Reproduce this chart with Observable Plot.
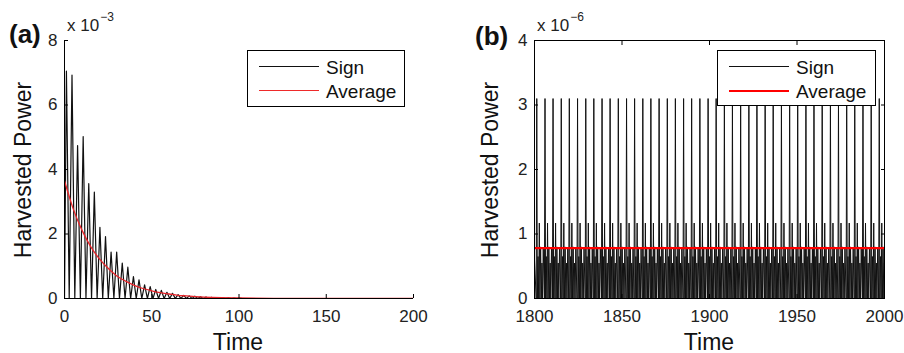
<!DOCTYPE html>
<html><head><meta charset="utf-8">
<script src="https://cdn.jsdelivr.net/npm/d3@7"></script>
<script src="https://cdn.jsdelivr.net/npm/@observablehq/plot@0.6"></script>
<style>
body{margin:0;background:#fff;font-family:"Liberation Sans",Arial,Helvetica,sans-serif;}
#wrap{position:relative;width:904px;height:353px;overflow:hidden;background:#fff;}
.panel{position:absolute;top:0;}
.tag{position:absolute;font-weight:bold;font-size:26px;color:#111;line-height:1;}
.exp{position:absolute;font-size:17px;color:#222;line-height:1;white-space:nowrap;}
.exp sup{font-size:12px;position:relative;top:-3px;margin-left:1px;}
.ytitle{position:absolute;font-size:23px;color:#111;white-space:nowrap;transform:translate(-50%,-50%) rotate(-90deg);line-height:1;}
.xtitle{position:absolute;font-size:23px;color:#111;white-space:nowrap;transform:translate(-50%,-50%);line-height:1;}
.legend{position:absolute;border:1px solid #000;background:#fff;box-sizing:border-box;}
.legend .row{position:absolute;left:0;width:100%;height:22px;}
.legend .ln{position:absolute;left:11px;width:60px;top:10px;}
.legend .tx{position:absolute;left:78px;top:11px;transform:translateY(-50%);font-size:19px;color:#111;line-height:1;white-space:nowrap;}
</style></head>
<body>
<div id="wrap"></div>
<script>
// ---------- Panel (a) data (power in units of 1e-3) ----------
const aPeakTimes = [1.1,4.3,7.5,10.7,13.9,17.1,20.3,23.5,26.7,29.9,33.1,36.3,39.5,42.7,45.9,49.1,52.3,55.5,58.7,61.9,65.1,68.3,71.5,74.7,77.9,81.1,84.3,87.5,90.7,93.9,97.1,100.3];
const aPeakValues = [7.05,6.93,4.74,5.02,3.56,3.30,2.21,1.92,1.44,1.44,1.10,0.97,0.68,0.58,0.42,0.37,0.28,0.25,0.19,0.16,0.12,0.10,0.08,0.07,0.05,0.045,0.035,0.03,0.02,0.02,0.015,0.012];
const aTroughTimes = [0,2.7,5.9,9.1,12.3,15.5,18.7,21.9,25.1,28.3,31.5,34.7,37.9,41.1,44.3,47.5,50.7,53.9,57.1,60.3,63.5,66.7,69.9,73.1,76.3,79.5,82.7,85.9,89.1,92.3,95.5,98.7,101.9,200];
const aAvgTimes = [0,5,10,15,20,25,30,35,40,45,50,55,60,65,70,75,80,90,100,120,150,200];
const aAvgValues = [3.65,2.78,2.12,1.61,1.23,0.94,0.70,0.54,0.41,0.31,0.24,0.18,0.14,0.10,0.08,0.06,0.045,0.025,0.015,0.005,0.002,0.001];
const aXTicks = [0,50,100,150,200];
const aYTicks = [0,2,4,6,8];

// ---------- Panel (b) data (power in units of 1e-6) ----------
const bSpikeTimes = [1801.3,1806.0,1810.6,1815.3,1819.9,1824.6,1829.3,1833.9,1838.6,1843.2,1847.9,1852.6,1857.2,1861.9,1866.5,1871.2,1875.9,1880.5,1885.2,1889.8,1894.5,1899.2,1903.8,1908.5,1913.1,1917.8,1922.5,1927.1,1931.8,1936.4,1941.1,1945.8,1950.4,1955.1,1959.7,1964.4,1969.1,1973.7,1978.4,1983.0,1987.7,1992.4,1997.0];
// one period of the steady oscillation, relative to each tall spike
const bCycleOffsets = [-0.33,0,0.33,0.72,1.1,1.45,1.8,2.2,2.6,2.95,3.3,3.7];
const bCycleValues  = [0,3.1,0,0.65,0,1.17,0,0.8,0,0.55,0,0.78];
const bAverage = 0.78;
const bXTicks = [1800,1850,1900,1950,2000];
const bYTicks = [0,1,2,3,4];

// ---------- build tables ----------
const aSignal = [
  ...aPeakTimes.map((t,i)=>({t, v:aPeakValues[i]})),
  ...aTroughTimes.map(t=>({t, v:0}))
].sort((p,q)=>p.t-q.t);
const aAvg = aAvgTimes.map((t,i)=>({t, v:aAvgValues[i]}));

const bSignal = [];
bSpikeTimes.forEach(s => bCycleOffsets.forEach((o,j)=>bSignal.push({t:s+o, v:bCycleValues[j]})));
bSignal.unshift({t:1800, v:0.6});
bSignal.push({t:2000.5, v:0.9});
bSignal.sort((p,q)=>p.t-q.t);
const bAvg = [{t:1800, v:bAverage},{t:2000, v:bAverage}];

const FONT = '"Liberation Sans",Arial,Helvetica,sans-serif';

function makePanel(o){
  const marks = [...o.marks];
  marks.push(Plot.axisX({ticks:o.xTicks, tickSize:-4, tickPadding:15, fontSize:17, stroke:"#000", fill:"#222", label:null, tickFormat:d=>String(d)}));
  marks.push(Plot.axisY({ticks:o.yTicks, tickSize:-4, tickPadding:11, fontSize:17, stroke:"#000", fill:"#222", label:null, tickFormat:d=>String(d)}));
  if (o.box){
    marks.push(Plot.axisX({anchor:"top", ticks:o.xTicks, tickSize:-4, stroke:"#000", label:null, tickFormat:()=>""}));
    marks.push(Plot.axisY({anchor:"right", ticks:o.yTicks, tickSize:-4, stroke:"#000", label:null, tickFormat:()=>""}));
    marks.push(Plot.frame({stroke:"#000", strokeWidth:1}));
  } else {
    marks.push(Plot.ruleX([o.xDomain[0]], {stroke:"#000"}));
  }
  return Plot.plot({
    width:o.width, height:353,
    marginLeft:o.marginLeft, marginRight:o.marginRight, marginTop:40, marginBottom:55,
    x:{domain:o.xDomain, label:null}, y:{domain:o.yDomain, label:null},
    style:{fontFamily:FONT, fontSize:"17px", color:"#222", background:"transparent", overflow:"visible"},
    marks
  });
}

const plotA = makePanel({
  width:450, marginLeft:64, marginRight:37, xDomain:[0,200], yDomain:[0,8],
  xTicks:aXTicks, yTicks:aYTicks, box:false,
  marks:[
    Plot.ruleY([0], {stroke:"#000"}),
    Plot.line(aSignal, {x:"t", y:"v", stroke:"#111", strokeWidth:1.2, clip:true}),
    Plot.line(aAvg, {x:"t", y:"v", stroke:"#e8262b", strokeWidth:1.3, curve:"monotone-x", clip:true})
  ]
});
const plotB = makePanel({
  width:454, marginLeft:84, marginRight:20, xDomain:[1800,2000], yDomain:[0,4],
  xTicks:bXTicks, yTicks:bYTicks, box:true,
  marks:[
    Plot.line(bSignal, {x:"t", y:"v", stroke:"#111", strokeWidth:1, clip:true}),
    Plot.line(bAvg, {x:"t", y:"v", stroke:"#f00", strokeWidth:2.2, clip:true})
  ]
});

const wrap = document.getElementById("wrap");
function place(el, left){ const d=document.createElement("div"); d.className="panel"; d.style.left=left+"px"; d.appendChild(el); wrap.appendChild(d); }
place(plotA, 0);
place(plotB, 450);

function addHTML(html){ wrap.insertAdjacentHTML("beforeend", html); }
addHTML('<div class="tag" style="left:9px;top:21px;">(a)</div>');
addHTML('<div class="tag" style="left:475px;top:23px;">(b)</div>');
addHTML('<div class="exp" style="left:67px;top:14px;">x 10<sup>−3</sup></div>');
addHTML('<div class="exp" style="left:537px;top:14px;">x 10<sup>−6</sup></div>');
addHTML('<div class="ytitle" style="left:23px;top:170px;">Harvested Power</div>');
addHTML('<div class="ytitle" style="left:490px;top:170px;">Harvested Power</div>');
addHTML('<div class="xtitle" style="left:238px;top:342px;">Time</div>');
addHTML('<div class="xtitle" style="left:709px;top:342px;">Time</div>');

function legend(left, top, w, h, avgWidth, avgColor){
  return `<div class="legend" style="left:${left}px;top:${top}px;width:${w}px;height:${h}px;">
    <div class="row" style="top:5px;"><div class="ln" style="height:1px;background:#111;"></div><div class="tx">Sign</div></div>
    <div class="row" style="top:29px;"><div class="ln" style="height:${avgWidth}px;background:${avgColor};"></div><div class="tx">Average</div></div>
  </div>`;
}
addHTML(legend(247, 50, 158, 57, 1, "#ee2a2a"));
addHTML(legend(717, 50, 159, 56, 2, "#f00"));
</script>
</body></html>
